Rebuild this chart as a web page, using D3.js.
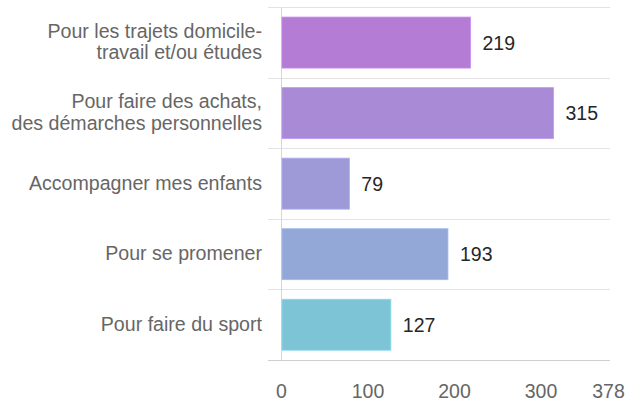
<!DOCTYPE html>
<html>
<head>
<meta charset="utf-8">
<script src="https://cdn.jsdelivr.net/npm/d3@7"></script>
<style>
  body { margin: 0; background: #fff; }
  svg { display: block; font-family: "Liberation Sans", Arial, sans-serif; }
</style>
</head>
<body>
<svg width="633" height="401"></svg>
<script>
// chart data
var categories = [
    "Pour les trajets domicile-\ntravail et/ou études",
    "Pour faire des achats,\ndes démarches personnelles",
    "Accompagner mes enfants",
    "Pour se promener",
    "Pour faire du sport"
];
var values = [219, 315, 79, 193, 127];
var barColors = ["#b57cd6", "#a98ad6", "#9d9ad7", "#93a8d7", "#7dc4d6"];
var tickValues = [0, 100, 200, 300, 378];

function drawChart() {
    var svg = d3.select("svg");

    var x = d3.scaleLinear().domain([0, 378]).range([281, 608]);
    var y = d3.scaleBand()
        .domain(categories)
        .range([7.3, 360])
        .paddingInner(0.277)
        .paddingOuter(0.1385);

    var gap = (y.step() - y.bandwidth()) / 2;
    var bounds = categories.map(function(c) { return y(c) - gap; });
    bounds.push(y.range()[1]);

    // horizontal separators
    svg.append("g").selectAll("line")
        .data(bounds)
        .enter().append("line")
        .attr("x1", 268).attr("x2", 610)
        .attr("y1", function(d) { return Math.round(d) + 0.5; })
        .attr("y2", function(d) { return Math.round(d) + 0.5; })
        .attr("stroke", function(d, i) { return i == bounds.length - 1 ? "#cfcfcf" : "#e3e3e3"; });

    // vertical baseline
    svg.append("line")
        .attr("x1", Math.round(x(0)) + 0.5).attr("x2", Math.round(x(0)) + 0.5)
        .attr("y1", bounds[0]).attr("y2", bounds[bounds.length - 1])
        .attr("stroke", "#d6d6d6");

    svg.append("g").selectAll("rect")
        .data(values)
        .enter().append("rect")
        .attr("x", x(0) + 1)
        .attr("y", function(d, i) { return y(categories[i]); })
        .attr("width", function(d) { return x(d) - x(0) - 1; })
        .attr("height", y.bandwidth())
        .attr("fill", function(d, i) { return barColors[i]; })
        .attr("stroke", function(d, i) { return d3.color(barColors[i]).brighter(0.3); })
        .attr("stroke-width", 0.8);

    // value labels
    svg.append("g").selectAll("text")
        .data(values)
        .enter().append("text")
        .attr("x", function(d) { return x(d) + 12; })
        .attr("y", function(d, i) { return y(categories[i]) + y.bandwidth() / 2; })
        .attr("dy", "0.36em")
        .attr("fill", "#262626")
        .style("font-size", "19.5px")
        .text(function(d) { return d; });

    // category labels
    var lineH = 21.6;
    var lab = svg.append("g").selectAll("text")
        .data(categories)
        .enter().append("text")
        .attr("text-anchor", "end")
        .attr("fill", "#666")
        .style("font-size", "19.6px")
        .attr("y", function(d) {
            var n = d.split("\n").length;
            return y(d) + y.bandwidth() / 2 - (n - 1) * lineH / 2 - 1.2;
        });
    lab.selectAll("tspan")
        .data(function(d) { return d.split("\n"); })
        .enter().append("tspan")
        .attr("x", 262)
        .attr("dy", function(d, i) { return i == 0 ? "0.36em" : lineH; })
        .text(function(d) { return d; });

    // bottom axis
    var axis = svg.append("g")
        .attr("transform", "translate(0,391)")
        .call(d3.axisBottom(x).tickValues(tickValues).tickSize(0).tickPadding(0).tickFormat(d3.format("d")));
    axis.select(".domain").remove();
    axis.selectAll("text")
        .attr("dy", "0.36em")
        .attr("fill", "#666")
        .style("font-size", "19.5px")
        .style("font-family", "'Liberation Sans', Arial, sans-serif");
}

drawChart();
</script>
</body>
</html>
